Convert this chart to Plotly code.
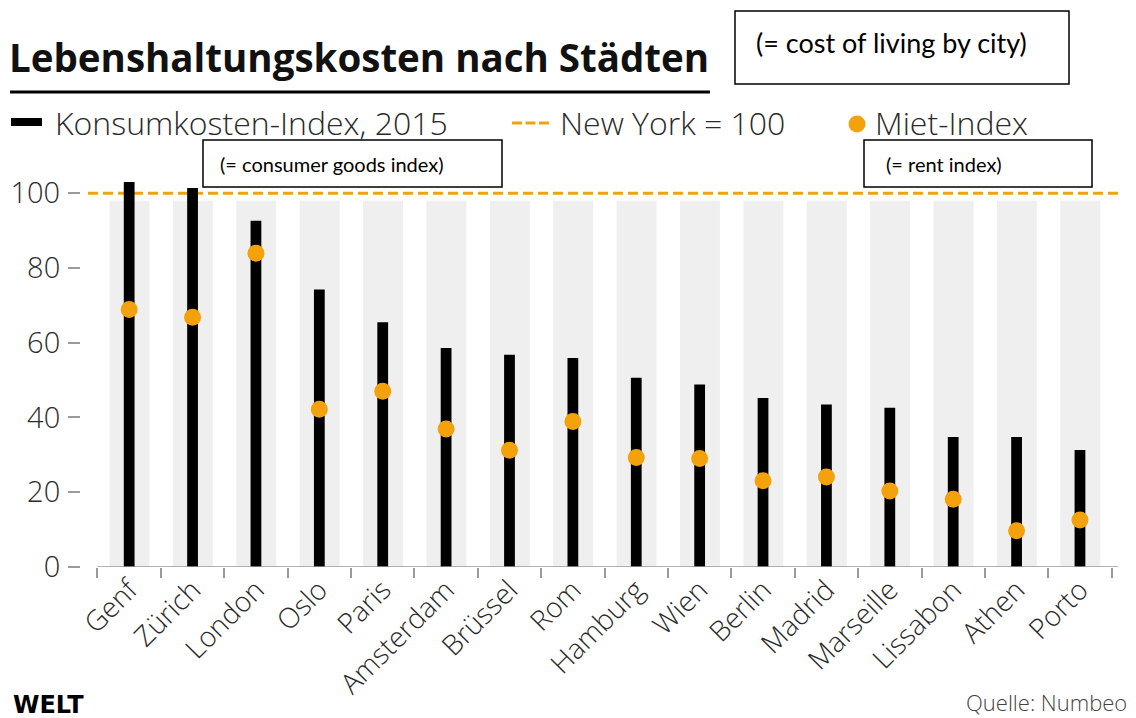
import plotly.graph_objects as go

cities = ["Genf", "Zürich", "London", "Oslo", "Paris", "Amsterdam", "Brüssel", "Rom",
          "Hamburg", "Wien", "Berlin", "Madrid", "Marseille", "Lissabon", "Athen", "Porto"]
konsum_index = [103.0, 101.4, 92.6, 74.2, 65.5, 58.6, 56.8, 55.9,
                50.6, 48.8, 45.2, 43.5, 42.6, 34.8, 34.8, 31.3]
miet_index = [68.9, 66.8, 83.9, 42.2, 47.0, 36.9, 31.2, 38.9,
              29.3, 29.0, 23.1, 24.1, 20.3, 18.1, 9.7, 12.6]
new_york = 100
y_ticks = [0, 20, 40, 60, 80, 100]

BLACK = "#000000"
ORANGE = "#F4A20C"
GRAY_TXT = "#2b2b2b"
AXIS_GRAY = "#9a9a9a"
STRIPE = "#efefef"
FONT = "Open Sans"

n = len(cities)
x_lo, x_hi = -0.76, 15.6

fig = go.Figure()
fig.add_trace(go.Bar(x=cities, y=konsum_index, width=0.17, marker=dict(color=BLACK, line=dict(width=0)),
                     name="Konsumkosten-Index, 2015", showlegend=False))
fig.add_trace(go.Scatter(x=cities, y=miet_index, mode="markers",
                         marker=dict(size=17, color=ORANGE, line=dict(width=0)),
                         name="Miet-Index", showlegend=False))

shapes = []
# background stripes per category
for i in range(n):
    shapes.append(dict(type="rect", xref="x", yref="y", x0=i - 0.31, x1=i + 0.32, y0=0, y1=98,
                       fillcolor=STRIPE, line=dict(width=0), layer="below"))
# New York = 100 reference line
shapes.append(dict(type="line", xref="x", yref="y", x0=-0.65, x1=x_hi, y0=new_york, y1=new_york,
                   line=dict(color=ORANGE, width=3, dash="10px,5px"), layer="below"))
# x axis line
shapes.append(dict(type="line", xref="x", yref="y", x0=-0.5, x1=x_hi, y0=0, y1=0,
                   line=dict(color=AXIS_GRAY, width=1.5), layer="above"))

W, H = 1136, 718
L, R, T, B = 81, 18, 167, 151
pw, ph = W - L - R, H - T - B

def px(x):
    return (x - L) / pw

def py(y):
    return (H - B - y) / ph

# title underline
shapes.append(dict(type="line", xref="paper", yref="paper", x0=px(10), x1=px(710), y0=py(92), y1=py(92),
                   line=dict(color=BLACK, width=3)))
# manual legend symbols
shapes.append(dict(type="rect", xref="paper", yref="paper", x0=px(11), x1=px(42), y0=py(126), y1=py(118),
                   fillcolor=BLACK, line=dict(width=0)))
shapes.append(dict(type="line", xref="paper", yref="paper", x0=px(512), x1=px(549), y0=py(123), y1=py(123),
                   line=dict(color=ORANGE, width=3, dash="10px,3.5px")))
shapes.append(dict(type="circle", xref="paper", yref="paper", x0=px(848.5), x1=px(865.5), y0=py(132.5), y1=py(115.5),
                   fillcolor=ORANGE, line=dict(width=0)))
# translation boxes
for (x0, x1, y0, y1) in [(735, 1069, 11, 84), (203, 502, 140, 187), (864, 1092, 140, 187)]:
    shapes.append(dict(type="rect", xref="paper", yref="paper", x0=px(x0), x1=px(x1), y0=py(y1), y1=py(y0),
                       fillcolor="white", line=dict(color=BLACK, width=1.5)))

annotations = []
def ann(text, x, y, size, color=GRAY_TXT, family=FONT, weight=300, xanchor="left"):
    annotations.append(dict(text=text, xref="paper", yref="paper", x=px(x), y=py(y), xanchor=xanchor,
                            yanchor="middle", showarrow=False,
                            font=dict(family=family, size=size, color=color, weight=weight)))

ann("Lebenshaltungskosten nach Städten", 7, 57, 38.5, color="#111111", weight=700)
ann("Konsumkosten-Index, 2015", 53, 123, 32)
ann("New York = 100", 558, 123, 32)
ann("Miet-Index", 873, 123, 32)
ann("(= cost of living by city)", 754, 42, 27, color=BLACK, family="Lato", weight=400)
ann("(= consumer goods index)", 218, 164, 20, color=BLACK, family="Lato", weight=400)
ann("(= rent index)", 884, 164, 20, color=BLACK, family="Lato", weight=400)
ann("WELT", 11, 705, 24, color=BLACK, family="DejaVu Sans", weight=800)
ann("Quelle: Numbeo", 1129, 702, 22, color="#444444", xanchor="right")

fig.update_layout(
    width=W, height=H,
    margin=dict(l=L, r=R, t=T, b=B, pad=0, autoexpand=False),
    plot_bgcolor="white", paper_bgcolor="white",
    barmode="overlay",
    shapes=shapes, annotations=annotations,
    showlegend=False,
    font=dict(family=FONT, color=GRAY_TXT),
    xaxis=dict(type="category", range=[x_lo, x_hi], tickson="boundaries", ticks="outside",
               ticklen=10, tickwidth=1.5, tickcolor=AXIS_GRAY, tickangle=-45, automargin=False,
               tickfont=dict(family=FONT, size=28, color=GRAY_TXT, weight=300),
               showgrid=False, showline=False, zeroline=False, fixedrange=True),
    yaxis=dict(range=[0, 107], tickvals=y_ticks, ticks="outside", ticklen=12, tickwidth=1.5,
               tickcolor=AXIS_GRAY, ticklabelstandoff=2, automargin=False,
               tickfont=dict(family=FONT, size=29, color=GRAY_TXT, weight=300),
               showgrid=False, showline=False, zeroline=False, fixedrange=True),
)

fig.write_html("out.html", config={"displayModeBar": False},
               post_script="document.body.style.margin='0px';")
